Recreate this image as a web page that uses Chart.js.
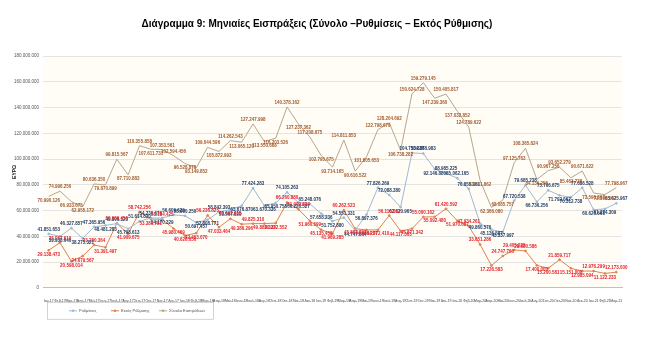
<!DOCTYPE html>
<html>
<head>
<meta charset="utf-8">
<script src="https://cdn.jsdelivr.net/npm/chart.js@4.4.0/dist/chart.umd.min.js"></script>
<style>
html, body { margin: 0; padding: 0; background: #fff; }
#wrap { width: 650px; height: 351px; }
</style>
</head>
<body>
<div id="wrap"><canvas id="grafico" width="650" height="351"></canvas></div>
<script>
// --- DATOS ---
const meses = [
  'Ιαν-17','Φεβ-17','Μαρ-17','Απρ-17','Μαϊ-17','Ιουν-17','Ιουλ-17','Αυγ-17','Σεπ-17','Οκτ-17','Νοε-17','Δεκ-17',
  'Ιαν-18','Φεβ-18','Μαρ-18','Απρ-18','Μαϊ-18','Ιουν-18','Ιουλ-18','Αυγ-18','Σεπ-18','Οκτ-18','Νοε-18','Δεκ-18',
  'Ιαν-19','Φεβ-19','Μαρ-19','Απρ-19','Μαϊ-19','Ιουν-19','Ιουλ-19','Αυγ-19','Σεπ-19','Οκτ-19','Νοε-19','Δεκ-19',
  'Ιαν-20','Φεβ-20','Μαρ-20','Απρ-20','Μαϊ-20','Ιουν-20','Ιουλ-20','Αυγ-20','Σεπ-20','Οκτ-20','Νοε-20','Δεκ-20',
  'Ιαν-21','Φεβ-21','Μαρ-21'
];

const ruthmiseis = [41851653, 39938640, 46327857, 38275321, 47365956, 48481283, 49806120, 45798613, 51614830, 54230676,
  54170329, 56609629, 55900250, 50697457, 52808771, 58842393, 60692615, 63676870, 77424283, 63670336,
  65950758, 74105263, 66226527, 65248076, 57658236, 51752880, 54551331, 44747864, 56897376, 77826269,
  72088380, 62620965, 104753386, 104278983, 92146880, 88985225, 85062165, 76855361, 49860576, 45136587,
  43337997, 67720538, 79685238, 66736256, 75766675, 71792562, 70312738, 77686528, 60620568, 61274309,
  65625967];

const ektos = [29138473, 35057610, 20598014, 24679567, 33280364, 31391497, 50009456, 41909675, 58742256, 53380781,
  53184425, 45980469, 40626050, 42453070, 56236825, 47033464, 53567829, 49386296, 49825310, 49882332,
  50252552, 66260880, 61009832, 51960599, 45135458, 41969285, 60262523, 45867703, 44908277, 44972410,
  56116312, 44117303, 45871342, 55000162, 55092480, 61420592, 51970687, 47934261, 33651286, 17226583,
  24747760, 29405225, 28680586, 17400000, 15200581, 21859717, 15151000, 12985094, 12976299, 11122233,
  12173000];

const synolo = [70990126, 74996250, 66933675, 62955172, 80636350, 79870899, 99815567, 87710883, 110355858, 107611731,
  107353561, 102594456, 96528878, 93149852, 109044596, 105872993, 114262543, 113065120, 127247998, 113550668,
  116203526, 140378162, 127237362, 117208675, 102795675, 93714165, 114811853, 90616522, 101805653, 122798679,
  128204692, 106738282, 150624728, 159279145, 147239360, 150405817, 137032852, 124789622, 83511862, 62366080,
  68085757, 97125763, 108365824, 84136256, 90967256, 93652279, 85463738, 90671622, 73596867, 72396542,
  77798967];

const nombres = ['Ρυθμίσεις', 'Εκτός Ρύθμισης', 'Σύνολο Εισπράξεων'];

// formato griego con puntos
function fmt(n) {
  return String(Math.round(n)).replace(/\B(?=(\d{3})+(?!\d))/g, '.');
}

const FUENTE = "'Liberation Sans', Arial, sans-serif";

// fondo crema del área de trazado
const fondoPlugin = {
  id: 'fondo',
  beforeDraw(chart) {
    const a = chart.chartArea, ctx = chart.ctx;
    ctx.save();
    ctx.fillStyle = '#fffdf6';
    ctx.fillRect(a.left, a.top, a.right - a.left, a.bottom - a.top);
    ctx.restore();
  }
};

// etiquetas de valor en cada punto
const etiquetasPlugin = {
  id: 'etiquetas',
  afterDatasetsDraw(chart) {
    const ctx = chart.ctx;
    ctx.save();
    ctx.font = 'bold 4.5px ' + FUENTE;
    ctx.textAlign = 'center';
    chart.data.datasets.forEach((ds, i) => {
      const meta = chart.getDatasetMeta(i);
      ctx.fillStyle = ds.labelColor;
      meta.data.forEach((pt, j) => {
        const v = ds.data[j];
        const prev = j > 0 ? ds.data[j - 1] : v;
        const next = j < ds.data.length - 1 ? ds.data[j + 1] : v;
        const arriba = v >= (prev + next) / 2;
        ctx.textBaseline = arriba ? 'bottom' : 'top';
        ctx.fillText(fmt(v), pt.x, arriba ? pt.y - 2 : pt.y + 2);
      });
    });
    ctx.restore();
  }
};

// leyenda dentro de un recuadro abajo a la izquierda
const leyendaPlugin = {
  id: 'leyenda',
  afterDraw(chart) {
    const a = chart.chartArea, ctx = chart.ctx;
    const x0 = a.left + 4, y0 = a.bottom + 14, w = 166, h = 17;
    ctx.save();
    ctx.strokeStyle = '#c8c8c8';
    ctx.lineWidth = 0.8;
    ctx.strokeRect(x0 + 0.5, y0 + 0.5, w, h);
    ctx.font = '4px ' + FUENTE;
    ctx.textBaseline = 'middle';
    const xs = [x0 + 22, x0 + 64, x0 + 112];
    const cy = y0 + h / 2 + 0.5;
    chart.data.datasets.forEach((ds, i) => {
      ctx.strokeStyle = ds.borderColor;
      ctx.lineWidth = 1;
      ctx.beginPath();
      ctx.moveTo(xs[i], cy);
      ctx.lineTo(xs[i] + 8, cy);
      ctx.stroke();
      ctx.fillStyle = ds.borderColor;
      ctx.beginPath();
      ctx.arc(xs[i] + 4, cy, 1.2, 0, Math.PI * 2);
      ctx.fill();
      ctx.fillStyle = '#555';
      ctx.fillText(ds.label, xs[i] + 10, cy);
    });
    ctx.restore();
  }
};

const grafico = document.getElementById('grafico');
const chart = new Chart(grafico, {
  type: 'line',
  data: {
    labels: meses,
    datasets: [
      {
        label: nombres[0],
        data: ruthmiseis,
        borderColor: '#9dbad8',
        backgroundColor: '#9dbad8',
        labelColor: '#1f3a64',
        borderWidth: 1,
        pointRadius: 0.9,
        tension: 0
      },
      {
        label: nombres[1],
        data: ektos,
        borderColor: '#dc8450',
        backgroundColor: '#dc8450',
        labelColor: '#e3222b',
        borderWidth: 1,
        pointRadius: 0.9,
        tension: 0
      },
      {
        label: nombres[2],
        data: synolo,
        borderColor: '#b7a78e',
        backgroundColor: '#b7a78e',
        labelColor: '#a25a2e',
        borderWidth: 1,
        pointRadius: 0,
        tension: 0
      }
    ]
  },
  options: {
    responsive: false,
    animation: false,
    layout: { padding: { left: 12, right: 28, top: 0, bottom: 45 } },
    plugins: {
      legend: { display: false },
      tooltip: { enabled: false },
      title: {
        display: true,
        text: 'Διάγραμμα 9: Μηνιαίες Εισπράξεις (Σύνολο –Ρυθμίσεις – Εκτός Ρύθμισης)',
        color: '#000',
        font: { family: FUENTE, size: 10, weight: 'bold' },
        padding: { top: 18, bottom: 26 }
      }
    },
    scales: {
      x: {
        offset: true,
        grid: { display: false },
        border: { color: '#c0c0c0' },
        ticks: {
          autoSkip: false, maxRotation: 0, minRotation: 0,
          color: '#444', padding: 3,
          font: { family: FUENTE, size: 3.5 }
        }
      },
      y: {
        min: 0,
        max: 180000000,
        afterFit(scale) { scale.width = 31; },
        grid: { color: '#e4e4e4', drawTicks: false },
        border: { display: false },
        ticks: {
          stepSize: 20000000,
          callback: v => fmt(v),
          color: '#555', padding: 4,
          font: { family: FUENTE, size: 4.5 }
        },
        title: {
          display: true,
          text: 'ΕΥΡΩ',
          color: '#222',
          padding: 0,
          font: { family: FUENTE, size: 5, weight: 'bold' }
        }
      }
    }
  },
  plugins: [fondoPlugin, etiquetasPlugin, leyendaPlugin]
});
</script>
</body>
</html>
